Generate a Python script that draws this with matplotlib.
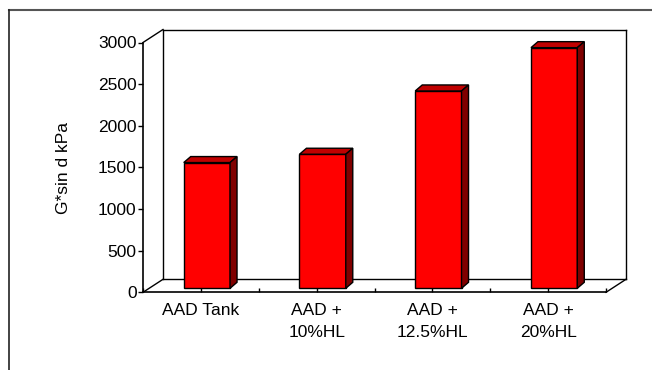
import matplotlib
matplotlib.use('Agg')
import matplotlib.pyplot as plt
from matplotlib.patches import Polygon
from matplotlib.lines import Line2D

plt.rcParams['font.family'] = ['Liberation Sans', 'DejaVu Sans']

categories = ['AAD Tank', 'AAD +\n10%HL', 'AAD +\n12.5%HL', 'AAD +\n20%HL']
values = [1510, 1610, 2370, 2890]
y_ticks = [0, 500, 1000, 1500, 2000, 2500, 3000]
y_label = 'G*sin d kPa'

W, H = 652, 370
fig = plt.figure(figsize=(W / 100, H / 100), dpi=100)
ax = fig.add_axes([143 / W, (H - 292.3) / H, 463 / W, 249.8 / H])
ax.set_xlim(-0.5, len(categories) - 0.5)
ax.set_ylim(0, 3000)


def px(dx, dy):
    # pixel offset -> data offset
    inv = ax.transData.inverted()
    x0, y0 = inv.transform((0, 0))
    x1, y1 = inv.transform((dx, dy))
    return x1 - x0, y1 - y0


# back wall / floor (depth offset 20px right, 13px up)
wx, wy = px(20, 13)
x0, x1 = -0.5, len(categories) - 0.5
ylo, yhi = 0, 3000
lk = dict(color='black', lw=1.0, clip_on=False, zorder=1)
ax.plot([x0 + wx, x1 + wx], [ylo + wy, ylo + wy], **lk)
ax.plot([x0 + wx, x1 + wx], [yhi + wy, yhi + wy], **lk)
ax.plot([x0 + wx, x0 + wx], [ylo + wy, yhi + wy], **lk)
ax.plot([x1 + wx, x1 + wx], [ylo + wy, yhi + wy], **lk)
ax.plot([x0, x0 + wx], [ylo, ylo + wy], **lk)
ax.plot([x0, x0 + wx], [yhi, yhi + wy], **lk)
ax.plot([x1, x1 + wx], [ylo, ylo + wy], **lk)

# bars: front face shifted (6px, 4px up), depth (7px, 6px up)
bx, by = px(6, 4)
dx, dy = px(7, 6)
bw = 0.4
xs = list(range(len(categories)))
ax.bar([x + bx for x in xs], values, width=bw, bottom=by,
       color='#FF0000', edgecolor='black', linewidth=1.0, zorder=3)
for x, v in zip(xs, values):
    l = x + bx - bw / 2
    r = x + bx + bw / 2
    top = v + by
    ax.add_patch(Polygon([(l, top), (r, top), (r + dx, top + dy), (l + dx, top + dy)],
                         closed=True, facecolor='#C00000', edgecolor='black',
                         lw=1.0, zorder=3, clip_on=False))
    ax.add_patch(Polygon([(r, by), (r, top), (r + dx, top + dy), (r + dx, by + dy)],
                         closed=True, facecolor='#800000', edgecolor='black',
                         lw=1.0, zorder=3, clip_on=False))

for s in ['top', 'right']:
    ax.spines[s].set_visible(False)
for s in ['left', 'bottom']:
    ax.spines[s].set_linewidth(1.2)
    ax.spines[s].set_zorder(4)

ax.set_yticks(y_ticks)
ax.tick_params(axis='y', direction='out', length=3.6, width=1.0, pad=1, labelsize=12.5)
ax.set_xticks(xs)
ax.set_xticklabels(categories, linespacing=1.6)
ax.set_xticks([x + 0.5 for x in [-1] + xs], minor=True)
ax.tick_params(axis='x', which='both', direction='in', length=2.9, width=1.0,
               pad=7.5, labelsize=12.5)

fig.text(63.5 / W, 1 - 168 / H, y_label, rotation=90, ha='center', va='center',
         fontsize=12.5)

# outer frame (cropped)
fig.add_artist(Line2D([9 / W, 1.0], [1 - 9.5 / H, 1 - 9.5 / H],
                      transform=fig.transFigure, color='#555555', lw=1.5))
fig.add_artist(Line2D([9 / W, 9 / W], [0.0, 1 - 9.5 / H],
                      transform=fig.transFigure, color='#222222', lw=1.2))

fig.savefig('out.png', dpi=100)
